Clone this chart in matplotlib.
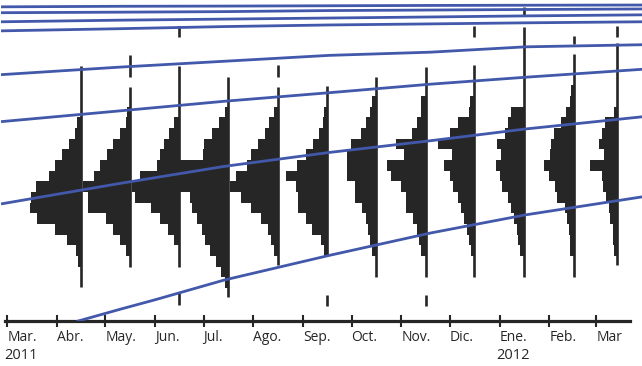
import numpy as np
import matplotlib
matplotlib.use('Agg')
import matplotlib.pyplot as plt
import matplotlib.dates as mdates
import matplotlib.transforms as mtransforms


month_ticks  = ['2011-03-01', '2011-04-01', '2011-05-01', '2011-06-01', '2011-07-01', '2011-08-01', '2011-09-01',
                '2011-10-01', '2011-11-01', '2011-12-01', '2012-01-01', '2012-02-01', '2012-03-01']
month_labels = ['Mar.', 'Abr.', 'May.', 'Jun.', 'Jul.', 'Ago.', 'Sep.', 'Oct.', 'Nov.', 'Dic.', 'Ene.', 'Feb.', 'Mar']
year_dates   = ['2011-02-27', '2011-12-30']
year_labels  = ['2011', '2012']

# one histogram per month, hanging left of its date
hist_dates = ['2011-04-16', '2011-05-16', '2011-06-16', '2011-07-16', '2011-08-16', '2011-09-16',
              '2011-10-16', '2011-11-16', '2011-12-16', '2012-01-16', '2012-02-16', '2012-03-14']

# lower edge of every bin (bins are one unit tall)
bin_low = [21, 20, 19, 18, 17, 16, 15, 14, 13, 12, 11, 10, 9, 8, 7, 6, 5, 4, 3, 2]

freq_abr = [0, 0, 0, 4, 6.5, 12.5, 19, 26, 32, 45, 50, 51.5, 44.5, 26.5, 14.5, 5, 3.5, 0, 0, 0]
freq_may = [0, 0, 3, 3.3, 10, 16.7, 22.7, 30, 36, 46.7, 41.7, 41.7, 23.3, 16.7, 10, 4, 0, 0, 0, 0]
freq_jun = [0, 0, 0, 5.5, 10, 15, 19, 22, 39, 47, 44, 28, 19, 11, 5, 0, 0, 0, 0, 0]
freq_jul = [0, 0, 3, 8.3, 15.7, 23.3, 25, 48, 48, 48, 38, 35.7, 31, 25.7, 22.3, 17.7, 11.7, 6.7, 3, 0]
freq_ago = [0, 0, 3.3, 8.3, 12.7, 19.3, 26.7, 31, 42, 48, 36.7, 26.7, 16.7, 10, 6.7, 3.3, 0, 0, 0, 0]
freq_sep = [0, 0, 3, 4, 8, 14, 21, 30, 41.7, 31, 29, 29, 21.7, 15.7, 6.7, 3, 0, 0, 0, 0]
freq_oct = [0, 3.3, 6, 10, 14.3, 24.3, 29, 29, 29, 21, 21, 13.3, 10, 7.7, 5.7, 3.3, 0, 0, 0, 0]
freq_nov = [0, 5, 5, 9, 13.3, 30, 22, 39, 35, 25, 20, 20, 12.3, 8.3, 6.7, 4.3, 0, 0, 0, 0]
freq_dic = [0, 3.5, 4.7, 15.7, 23.7, 36.3, 22.3, 30.3, 23.7, 21.3, 15.7, 13, 9.7, 7, 4.7, 3, 0, 0, 0, 0]
freq_ene = [0, 0, 12.3, 15.7, 19, 26.3, 22.3, 28, 23.7, 21.3, 15.7, 13, 9.7, 7, 5.7, 3.7, 0, 0, 0, 0]
freq_feb = [3, 4, 8, 12.3, 19.7, 22.3, 23.3, 30, 25, 19, 16.7, 9, 6.7, 5, 3.3, 3.3, 0, 0, 0, 0]
freq_mar = [0, 0, 3, 12, 15.3, 17.7, 12.7, 27, 15.3, 14.3, 11, 7.7, 6.7, 4.3, 4.3, 3, 0, 0, 0, 0]

# thin stems of each histogram (index into hist_dates, top, bottom)
stem_month  = [0, 1, 1, 2, 3, 4, 4, 5, 6, 7, 8, 9, 10, 11]
stem_top    = [23.8, 24.8, 21.8, 23.8, 22.8, 23.9, 21.8, 21.9, 22.8, 23.7, 23.9, 27.5, 24.9, 26.0]
stem_bottom = [3.1, 22.8, 5.0, 5.0, 2.2, 22.8, 5.2, 6.0, 4.0, 4.0, 4.0, 4.0, 4.0, 5.2]

# isolated extreme values
out_month  = [2, 2, 5, 7, 8, 9, 10, 11]
out_top    = [27.6, 2.5, 2.3, 2.3, 27.6, 29.3, 26.6, 27.6]
out_bottom = [26.5, 1.4, 1.3, 1.3, 26.5, 28.6, 25.9, 26.5]

# blue curves
curve_dates = ['2011-02-26', '2011-05-10', '2011-07-14', '2011-09-17', '2011-11-19', '2012-01-17', '2012-03-30']
curve_a = [10.9, 12.8, 14.4, 15.7, 16.8, 17.9, 19.05]
curve_b = [18.6, 19.6, 20.5, 21.3, 22.1, 22.75, 23.5]
curve_c = [23.0, 23.7, 24.25, 24.8, 25.1, 25.6, 25.8]
curve_e = [27.1, 27.3, 27.5, 27.65, 27.75, 27.85, 27.95]
curve_f = [27.95, 28.1, 28.2, 28.3, 28.4, 28.5, 28.6]
curve_g = [28.8, 28.85, 28.9, 29.0, 29.05, 29.1, 29.15]
curve_h = [29.35, 29.4, 29.42, 29.45, 29.48, 29.5, 29.52]

low_dates = ['2011-04-14', '2011-05-10', '2011-06-01', '2011-07-14', '2011-09-17', '2011-11-19', '2012-01-17', '2012-03-30']
curve_d   = [-0.1, 1.0, 1.9, 3.75, 6.05, 8.15, 9.85, 11.55]


def main():
    plt.rcParams['font.family'] = ['Open Sans', 'DejaVu Sans']

    dark = '#262626'
    blue = '#4258aa'
    px_per_day = 1.609

    fig = plt.figure(figsize = (6.42, 3.66), dpi = 100)
    ax = fig.add_axes([0, 45 / 366, 1, 321 / 366])

    start = mdates.datestr2num('2011-03-01')
    ax.set_xlim(start - 4.5, start - 4.5 + 642 / px_per_day)
    ax.set_ylim(-0.094, 29.99)

    freqs = [freq_abr, freq_may, freq_jun, freq_jul, freq_ago, freq_sep,
             freq_oct, freq_nov, freq_dic, freq_ene, freq_feb, freq_mar]
    hx = mdates.datestr2num(hist_dates)
    centers = np.array(bin_low) + 0.5

    for x, f in zip(hx, freqs):
        ax.barh(centers, -np.array(f) / px_per_day, left = x, height = 1.0,
                color = dark, linewidth = 0, zorder = 2)

    ax.vlines(hx[stem_month], stem_bottom, stem_top, color = dark, linewidth = 1.9, zorder = 2)
    ax.vlines(hx[out_month], out_bottom, out_top, color = dark, linewidth = 1.9, zorder = 2)

    cx = mdates.datestr2num(curve_dates)
    for c in [curve_a, curve_b, curve_c, curve_e, curve_f, curve_g, curve_h]:
        ax.plot(cx, c, color = blue, linewidth = 2.0, zorder = 3)
    ax.plot(mdates.datestr2num(low_dates), curve_d, color = blue, linewidth = 2.0, zorder = 3)

    for s in ['left', 'right', 'top']:
        ax.spines[s].set_visible(False)
    ax.spines['bottom'].set_linewidth(2.3)
    ax.spines['bottom'].set_color(dark)
    ax.spines['bottom'].set_bounds(start - 1.4, start + 387.0)

    ax.set_yticks([])
    ax.set_xticks(mdates.datestr2num(month_ticks))
    ax.set_xticklabels(month_labels, ha = 'left')
    ax.tick_params(axis = 'x', direction = 'inout', length = 9, width = 1.5, color = dark,
                   labelsize = 10, labelcolor = dark, pad = 2)

    trans = mtransforms.blended_transform_factory(ax.transData, fig.transFigure)
    for d, label in zip(mdates.datestr2num(year_dates), year_labels):
        ax.text(d, 18 / 366, label, transform = trans, ha = 'left', va = 'top',
                fontsize = 10.5, color = dark)

    fig.savefig('out.png', dpi = 100)
    plt.close(fig)


if __name__ == "__main__":
    main()
